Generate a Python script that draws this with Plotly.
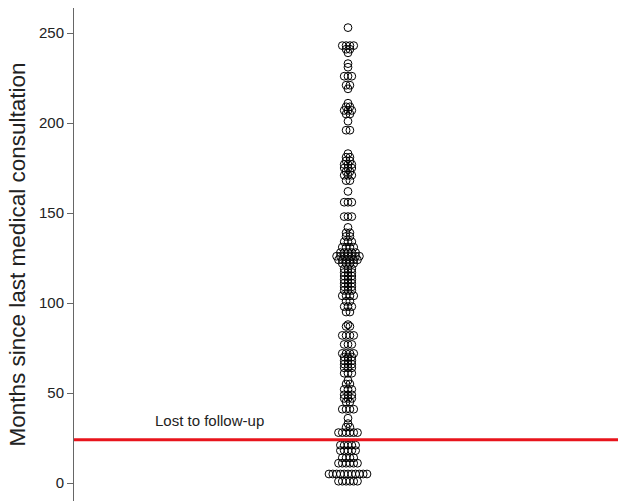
import plotly.graph_objects as go

# Months since last medical consultation (value, number of patients at that value)
month_values = [253, 243, 241, 239, 233, 231, 226, 221, 219, 211, 209, 207, 205, 201, 196,
                183, 181, 179, 177, 175, 173, 171, 168, 162, 156, 148, 142, 139, 137, 134,
                131, 128, 126, 124, 122, 119, 117, 115, 113, 111, 109, 107, 104, 101, 98, 95,
                88, 87, 82, 77, 72, 70, 68, 66, 64, 61, 57, 55, 52, 49, 47, 45, 41, 36, 33,
                31, 28, 21, 18, 14, 11, 5, 1]
patient_counts = [1, 4, 2, 1, 1, 1, 3, 2, 1, 1, 2, 3, 2, 1, 2,
                  1, 2, 2, 3, 3, 2, 3, 2, 1, 3, 3, 1, 2, 2, 3,
                  4, 5, 7, 6, 4, 3, 3, 3, 3, 3, 3, 3, 4, 2, 3, 2,
                  1, 2, 4, 3, 4, 3, 3, 3, 3, 3, 1, 2, 3, 3, 3, 2, 4, 1, 1,
                  2, 6, 5, 5, 4, 6, 11, 6]
follow_up_cutoff = 24
cutoff_label = "Lost to follow-up"
y_title = "Months since last medical consultation"
y_ticks = [0, 50, 100, 150, 200, 250]

# dot-plot layout: dots sharing a value are placed side by side, centred
dot_step = 3.8
xs, ys = [], []
for v, n in zip(month_values, patient_counts):
    for i in range(n):
        xs.append((i - (n - 1) / 2) * dot_step)
        ys.append(v)

fig = go.Figure()
fig.add_trace(go.Scatter(
    x=xs, y=ys, mode="markers",
    marker=dict(symbol="circle-open", size=7.8, color="black", line=dict(width=1)),
    hoverinfo="y", showlegend=False,
))

fig.add_shape(type="line", xref="paper", x0=0, x1=1, yref="y",
              y0=follow_up_cutoff, y1=follow_up_cutoff,
              line=dict(color="#e8141c", width=3))
fig.add_annotation(text=cutoff_label, xref="x", yref="y", x=-139, y=35,
                   showarrow=False, xanchor="center", yanchor="middle",
                   font=dict(size=15, color="#222"))

fig.update_layout(
    width=618, height=501,
    margin=dict(l=74, r=0, t=8, b=0),
    paper_bgcolor="white", plot_bgcolor="white",
    font=dict(family="Arial, Liberation Sans, sans-serif", color="#222"),
    xaxis=dict(range=[-274, 270], visible=False, showgrid=False, zeroline=False),
    yaxis=dict(range=[-10, 263.9], tickvals=y_ticks, ticks="outside", ticklen=6,
               tickcolor="#666", showline=True, linecolor="#666", linewidth=1,
               showgrid=False, zeroline=False, tickfont=dict(size=15, color="#222"),
               title=dict(text=y_title, font=dict(size=22.5, color="#222"), standoff=7)),
)

fig.write_html("out.html", config={"displayModeBar": False},
               post_script="document.body.style.margin='0';document.body.style.overflow='hidden';")
